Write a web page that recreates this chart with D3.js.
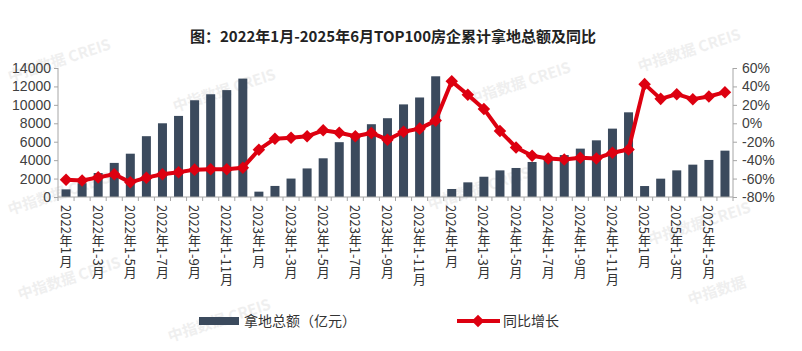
<!DOCTYPE html>
<html><head><meta charset="utf-8">
<script src="https://cdn.jsdelivr.net/npm/d3@7"></script>
<style>
html,body{margin:0;padding:0;background:#fff;}
svg{display:block;font-family:"Liberation Sans","Noto Sans CJK SC",sans-serif;}
</style></head>
<body><svg id="c" width="802" height="351"></svg>
<script>
const title = "图：2022年1月-2025年6月TOP100房企累计拿地总额及同比";
const categories = [
 "2022年1月","2022年1-2月","2022年1-3月","2022年1-4月","2022年1-5月","2022年1-6月","2022年1-7月","2022年1-8月","2022年1-9月","2022年1-10月","2022年1-11月","2022年1-12月",
 "2023年1月","2023年1-2月","2023年1-3月","2023年1-4月","2023年1-5月","2023年1-6月","2023年1-7月","2023年1-8月","2023年1-9月","2023年1-10月","2023年1-11月","2023年1-12月",
 "2024年1月","2024年1-2月","2024年1-3月","2024年1-4月","2024年1-5月","2024年1-6月","2024年1-7月","2024年1-8月","2024年1-9月","2024年1-10月","2024年1-11月","2024年1-12月",
 "2025年1月","2025年1-2月","2025年1-3月","2025年1-4月","2025年1-5月","2025年1-6月"];
const amount = [
 830,1500,2600,3700,4700,6600,8000,8800,10500,11150,11600,12850,
 580,1200,2000,3100,4200,5950,6700,7900,8550,10050,10800,13100,
 870,1590,2200,2890,3150,3800,4200,4550,5250,6150,7420,9190,
 1190,1990,2890,3510,4020,5030];
const yoy = [
 -61.2,-62.0,-58.7,-55.4,-64.1,-59.0,-55.4,-53.2,-50.3,-50.0,-50.0,-48.2,
 -28.6,-16.7,-15.6,-14.1,-7.6,-10.2,-14.1,-10.5,-17.8,-9.1,-5.8,2.9,
 45.5,30.9,15.6,-8.4,-26.2,-35.3,-38.2,-39.3,-37.5,-38.2,-32.0,-28.4,
 42.5,26.5,31.6,26.2,29.1,33.8];
const leftTicks = [0,2000,4000,6000,8000,10000,12000,14000];
const rightTicks = [-80,-60,-40,-20,0,20,40,60];
const legendNames = ["拿地总额（亿元）","同比增长"];
const watermarks = [
 {t:"中指数据 CREIS",x:10,y:82},{t:"中指数据 CREIS",x:175,y:112},{t:"中指数据 CREIS",x:10,y:215},
 {t:"中指数据 CREIS",x:470,y:105},{t:"中指数据 CREIS",x:640,y:72},{t:"中指数据 CREIS",x:650,y:245},
 {t:"中指数据 CREIS",x:430,y:210},{t:"中指数据 CREIS",x:20,y:300},{t:"中指数据 CREIS",x:170,y:342},
 {t:"中指数据",x:690,y:305}];

const svg = d3.select("#c");
const L=58, R=733, T=68, B=197;
const barColor="#3b4a5d", lineColor="#dd0010", axisColor="#a6a6a6", textColor="#404040";

// watermarks
svg.append("g").selectAll("text").data(watermarks).join("text")
 .attr("transform",d=>`translate(${d.x},${d.y}) rotate(-18)`)
 .attr("font-family","Noto Sans CJK SC").attr("font-weight","bold").attr("font-size",15)
 .attr("fill","#efefef").text(d=>d.t);

svg.append("text").attr("x",393).attr("y",42).attr("text-anchor","middle")
 .attr("font-family","Noto Sans CJK SC").attr("font-weight","bold").attr("font-size",15)
 .attr("fill","#222").text(title);

const pi=0.44;
const x = d3.scaleBand().domain(d3.range(categories.length)).range([L,R]).paddingInner(pi).paddingOuter(pi/2);
const yL = d3.scaleLinear().domain([0,14000]).range([B,T]);
const yR = d3.scaleLinear().domain([-80,60]).range([B,T]);

// bars
svg.append("g").selectAll("rect").data(amount).join("rect")
 .attr("x",(d,i)=>x(i)).attr("width",x.bandwidth())
 .attr("y",d=>yL(d)).attr("height",d=>B-yL(d)).attr("fill",barColor);

// axes
const gl = svg.append("g").attr("transform",`translate(${L},0)`).call(d3.axisLeft(yL).tickValues(leftTicks).tickSize(4).tickPadding(3).tickFormat(d3.format("d")));
const gr = svg.append("g").attr("transform",`translate(${R},0)`).call(d3.axisRight(yR).tickValues(rightTicks).tickSize(4).tickPadding(5).tickFormat(d=>d+"%"));
[gl,gr].forEach(g=>{
 g.selectAll("path,line").attr("stroke",axisColor);
 g.select(".domain").attr("d", `M0,${T}V${B}`);
 g.selectAll("text").attr("font-size",14).attr("fill",textColor).attr("font-family","Liberation Sans");
});
// bottom axis
const step = x.step();
const bx = svg.append("g");
bx.append("line").attr("x1",L).attr("x2",R).attr("y1",B).attr("y2",B).attr("stroke",axisColor);
bx.selectAll("line.t").data(d3.range(categories.length+1)).join("line").attr("class","t")
 .attr("x1",i=> i<categories.length ? x(i)-step*pi/2 : R).attr("x2",i=> i<categories.length ? x(i)-step*pi/2 : R)
 .attr("y1",B).attr("y2",B+4).attr("stroke",axisColor);
bx.selectAll("text").data(categories.map((c,i)=>({c,i})).filter(d=>d.i%2===0)).join("text")
 .attr("x",d=>x(d.i)+x.bandwidth()/2).attr("y",205)
 .style("writing-mode","vertical-rl")
 .attr("font-family","Noto Sans CJK SC").attr("font-size",13).attr("fill","#333")
 .text(d=>d.c);

// line
const line = d3.line().x((d,i)=>x(i)+x.bandwidth()/2).y(d=>yR(d));
svg.append("path").datum(yoy).attr("d",line).attr("fill","none").attr("stroke",lineColor).attr("stroke-width",4).attr("stroke-linejoin","round");
const diamond = d3.symbol().type(d3.symbolDiamond2).size(100);
svg.append("g").selectAll("path").data(yoy).join("path")
 .attr("transform",(d,i)=>`translate(${x(i)+x.bandwidth()/2},${yR(d)})`)
 .attr("d",diamond).attr("fill",lineColor);

// legend
const lg = svg.append("g");
lg.append("rect").attr("x",199).attr("y",317).attr("width",40).attr("height",8).attr("fill",barColor);
lg.append("text").attr("x",244).attr("y",326).attr("font-family","Noto Sans CJK SC").attr("font-size",14).attr("fill","#333").text(legendNames[0]);
lg.append("line").attr("x1",457).attr("x2",500).attr("y1",321).attr("y2",321).attr("stroke",lineColor).attr("stroke-width",4);
lg.append("path").attr("transform","translate(478,321)").attr("d",diamond).attr("fill",lineColor);
lg.append("text").attr("x",503).attr("y",326).attr("font-family","Noto Sans CJK SC").attr("font-size",14).attr("fill","#333").text(legendNames[1]);
</script></body></html>
